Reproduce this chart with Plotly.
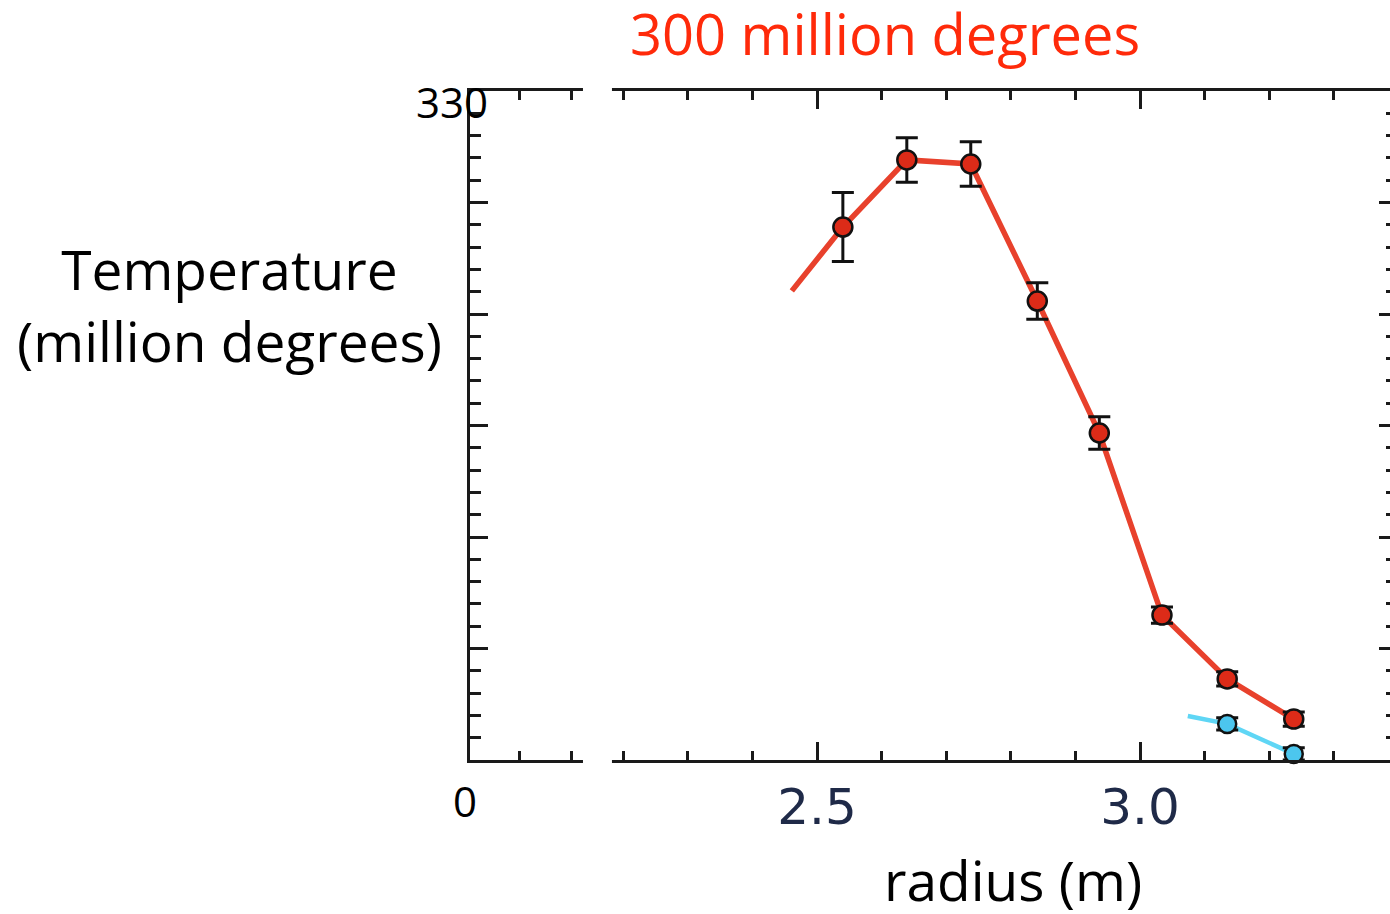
import plotly.graph_objects as go

# ---- data ----
red_x = [2.540, 2.639, 2.738, 2.841, 2.937, 3.034, 3.135, 3.238]
red_y = [262.9, 296.0, 294.0, 226.4, 161.3, 71.5, 40.0, 20.2]
red_err = [17, 11, 11, 9, 8, 4, 3.5, 3.5]
red_lead_x = [2.461]
red_lead_y = [231.4]

blue_x = [3.135, 3.238]
blue_y = [17.8, 3.0]
blue_err = [3, 3]
blue_lead_x = [3.074]
blue_lead_y = [21.7]

x_range = [1.9628, 3.3870]
y_range = [0, 330]
x_major = [2.5, 3.0]
x_major_text = ["2.5", "3.0"]
x_minor = [2.04, 2.12, 2.2, 2.3, 2.4, 2.6, 2.7, 2.8, 2.9, 3.1, 3.2, 3.3]
y_major = [0, 55, 110, 165, 220, 275, 330]
y_minor_step = 11
y_label_vals = [0, 330]
y_label_text = ["0", "330"]

title_text = "300 million degrees"
y_title = "Temperature<br>(million degrees)"
x_title = "radius (m)"

AX = "#1a1a1a"
RED_LINE = "#e8412c"
RED_MARK = "#dc2b18"
BLUE_LINE = "#5fd6f5"
BLUE_MARK = "#4cc6ee"

fig = go.Figure()
fig.add_trace(go.Scatter(x=red_lead_x + red_x, y=red_lead_y + red_y, mode="lines",
                         line=dict(color=RED_LINE, width=5.5), hoverinfo="skip"))
fig.add_trace(go.Scatter(x=blue_lead_x + blue_x, y=blue_lead_y + blue_y, mode="lines",
                         line=dict(color=BLUE_LINE, width=4.5), hoverinfo="skip",
                         cliponaxis=False))
fig.add_trace(go.Scatter(x=red_x, y=red_y, mode="markers",
                         marker=dict(size=19, color=RED_MARK, line=dict(color="#111", width=2.5)),
                         error_y=dict(type="data", array=red_err, color="#111", thickness=3, width=11),
                         cliponaxis=False))
fig.add_trace(go.Scatter(x=blue_x, y=blue_y, mode="markers",
                         marker=dict(size=18, color=BLUE_MARK, line=dict(color="#111", width=2.5)),
                         error_y=dict(type="data", array=blue_err, color="#111", thickness=3, width=11),
                         cliponaxis=False))
# empty trace that carries the right-hand tick axis
fig.add_trace(go.Scatter(x=[], y=[], yaxis="y2", showlegend=False, hoverinfo="skip"))

fig.update_layout(
    width=1390, height=914,
    margin=dict(l=470, r=0, t=91, b=154),
    paper_bgcolor="white", plot_bgcolor="white",
    showlegend=False,
    xaxis=dict(range=x_range, showgrid=False, zeroline=False,
               showline=True, linecolor=AX, linewidth=3, mirror="ticks",
               ticks="inside", ticklen=18, tickwidth=3, tickcolor=AX,
               tickmode="array", tickvals=x_major, ticktext=x_major_text,
               tickfont=dict(family="DejaVu Sans", size=50, color="#1f2a48"),
               ticklabelstandoff=1,
               minor=dict(tickmode="array", tickvals=x_minor, ticks="inside",
                          ticklen=9, tickwidth=3, tickcolor=AX, showgrid=False)),
    yaxis=dict(range=y_range, showgrid=False, zeroline=False,
               showline=True, linecolor=AX, linewidth=3,
               ticks="inside", ticklen=18, tickwidth=3, tickcolor=AX,
               tickmode="array", tickvals=y_major, showticklabels=False,
               minor=dict(tickmode="linear", tick0=0, dtick=y_minor_step, ticks="inside",
                          ticklen=11, tickwidth=3, tickcolor=AX, showgrid=False)),
    yaxis2=dict(range=y_range, overlaying="y", side="right", showgrid=False,
                zeroline=False, showline=False,
                ticks="inside", ticklen=11, tickwidth=3, tickcolor=AX,
                tickmode="array", tickvals=y_major, showticklabels=False,
                minor=dict(tickmode="linear", tick0=0, dtick=y_minor_step, ticks="inside",
                           ticklen=4, tickwidth=3, tickcolor=AX, showgrid=False)),
)

# gap in the top and bottom frame lines
for y0, y1 in [(-0.04, 0.04), (0.96, 1.04)]:
    fig.add_shape(type="rect", xref="paper", yref="paper", x0=0.1228, x1=0.1543,
                  y0=y0, y1=y1, fillcolor="white", line=dict(width=0), layer="above")

TXT = "Open Sans"
# y end labels
fig.add_annotation(x=-0.0196, xref="paper", y=y_label_vals[1], yref="y", yshift=-10,
                   xanchor="center", yanchor="middle",
                   text=y_label_text[1], showarrow=False,
                   font=dict(family=TXT, size=42, color="black"))
fig.add_annotation(x=-0.0054, xref="paper", y=y_label_vals[0], yref="y", yshift=-40,
                   xanchor="center", yanchor="middle",
                   text=y_label_text[0], showarrow=False,
                   font=dict(family=TXT, size=42, color="black"))
# titles
fig.add_annotation(x=0.4511, xref="paper", y=1.087, yref="paper", text=title_text,
                   showarrow=False, xanchor="center", yanchor="middle",
                   font=dict(family=TXT, size=56, color="#ff2a0a"))
fig.add_annotation(x=-0.2609, xref="paper", y=0.6816, yref="paper", text=y_title,
                   showarrow=False, align="center", xanchor="center", yanchor="middle",
                   font=dict(family=TXT, size=55, color="black"))
fig.add_annotation(x=0.590, xref="paper", y=-0.179, yref="paper", text=x_title,
                   showarrow=False, xanchor="center", yanchor="middle",
                   font=dict(family=TXT, size=55, color="black"))

fig.write_html("out.html")
